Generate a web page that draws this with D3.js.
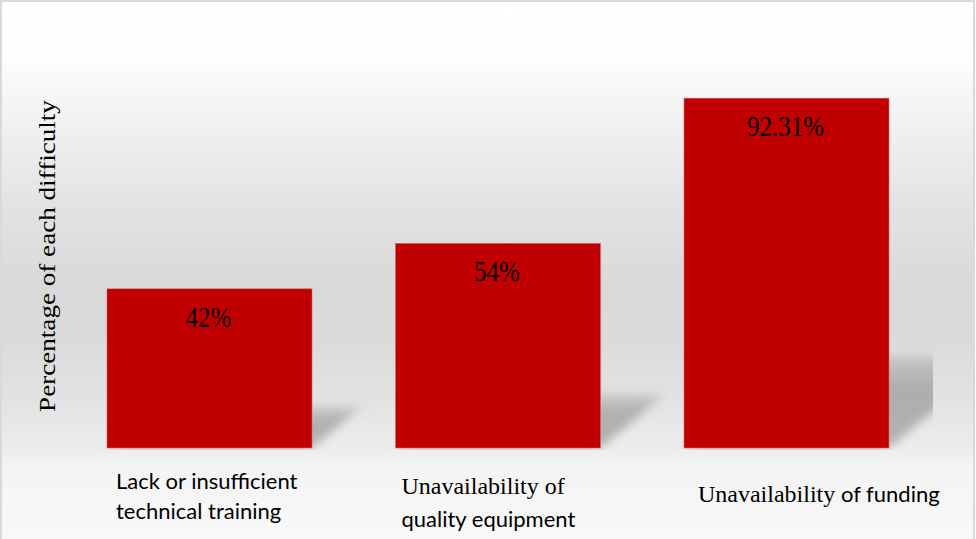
<!DOCTYPE html>
<html>
<head>
<meta charset="utf-8">
<script src="https://cdn.jsdelivr.net/npm/d3@7"></script>
<style>
  html, body { margin: 0; padding: 0; background: #fff; }
  svg { display: block; }
</style>
</head>
<body>
<svg id="chart" width="976" height="539"></svg>
<script>
// Difficulties reported, share of respondents (%)
const categories = [
  "Lack or insufficient technical training",
  "Unavailability of quality equipment",
  "Unavailability of funding"
];
const values = [42, 54, 92.31];
const yDomain = [0, 100];
const yTitle = "Percentage of each difficulty";

const W = 976, H = 539;
const SERIF = "'Liberation Serif', 'Times New Roman', serif";
const SANS = "Lato, 'Open Sans', sans-serif";
const BAR = "#c00000";

const svg = d3.select("#chart");
const defs = svg.append("defs");

// Soft grey background wash
const bg = defs.append("linearGradient")
  .attr("id", "bgGrad").attr("x1", 0).attr("y1", 0).attr("x2", 0).attr("y2", 1);
[[0, "#ffffff"], [50, "#fefefe"], [120, "#f1f1f1"], [200, "#e3e3e3"], [280, "#d9d9d9"],
 [330, "#dadada"], [400, "#e4e4e4"], [445, "#eeeeee"], [456, "#f4f4f4"], [539, "#f9f9f9"]]
  .forEach(([y, c]) => bg.append("stop").attr("offset", y / H).attr("stop-color", c));

defs.append("filter").attr("id", "shadowBlur")
  .attr("x", "-20%").attr("y", "-20%").attr("width", "140%").attr("height", "140%")
  .append("feGaussianBlur").attr("stdDeviation", 5);

// Shadow darkens towards its base
const sg = defs.append("linearGradient")
  .attr("id", "shadowGrad").attr("x1", 0).attr("y1", 0).attr("x2", 0).attr("y2", 1);
sg.append("stop").attr("offset", 0).attr("stop-color", "#7a7a7a").attr("stop-opacity", 0.25);
sg.append("stop").attr("offset", 0.35).attr("stop-color", "#7a7a7a").attr("stop-opacity", 0.5);
sg.append("stop").attr("offset", 1).attr("stop-color", "#7a7a7a").attr("stop-opacity", 0.5);

const x = d3.scaleBand()
  .domain(categories)
  .range([65.25, 930.75])
  .paddingInner(0.2894)
  .paddingOuter(0.1447);

const y = d3.scaleLinear().domain(yDomain).range([448, 69]);

defs.append("clipPath").attr("id", "plotClip")
  .append("rect").attr("x", 60).attr("y", y(100)).attr("width", 933 - 60).attr("height", y(0) + 2 - y(100));

svg.append("rect").attr("x", 1).attr("y", 1).attr("width", W - 3).attr("height", H + 10)
  .attr("fill", "url(#bgGrad)").attr("stroke", "#d9d9d9").attr("stroke-width", 2);

// Perspective shadows cast up and to the right of each bar
const shadowScale = 0.26, shadowSlant = 1.2;
svg.append("g").attr("clip-path", "url(#plotClip)")
  .selectAll("path").data(values).join("path")
  .attr("d", (v, i) => {
    const x0 = x(categories[i]), x1 = x0 + x.bandwidth();
    const b = y(0), h = (y(0) - y(v)) * shadowScale, dx = h * shadowSlant;
    return `M${x0},${b}L${x1},${b}L${x1 + dx},${b - h}L${x0 + dx},${b - h}Z`;
  })
  .attr("fill", "url(#shadowGrad)")
  .attr("filter", "url(#shadowBlur)");

// Bars
svg.append("g").selectAll("rect").data(values).join("rect")
  .attr("x", (v, i) => x(categories[i]))
  .attr("y", v => y(v))
  .attr("width", x.bandwidth())
  .attr("height", v => y(0) - y(v))
  .attr("fill", BAR)
  .attr("stroke", "#d86a6a").attr("stroke-width", 0.6);

// Value labels inside the top of each bar
svg.append("g").selectAll("text").data(values).join("text")
  .attr("transform", (v, i) =>
    `translate(${x(categories[i]) + x.bandwidth() / 2 - 1},${y(v) + 38}) scale(1,1.2)`)
  .attr("text-anchor", "middle")
  .attr("font-family", SERIF)
  .attr("font-size", 25)
  .attr("fill", "#000")
  .text(v => v + "%");

// Category labels: line breaks (word index) and number of leading words set in serif
const labelFormat = [
  { breakAt: 3, serifWords: 0, dx: 9,  base: 489, lead: 30 },
  { breakAt: 2, serifWords: 2, dx: 6,  base: 494, lead: 33 },
  { breakAt: 99, serifWords: 1, dx: 14, base: 502, lead: 30 }
];
const catG = svg.append("g");
categories.forEach((c, i) => {
  const f = labelFormat[i];
  const words = c.split(" ");
  const lines = [words.slice(0, f.breakAt), words.slice(f.breakAt)].filter(l => l.length);
  let wi = 0;
  lines.forEach((line, li) => {
    const t = catG.append("text")
      .attr("x", x(c) + f.dx)
      .attr("y", f.base + li * f.lead)
      .attr("fill", "#000");
    // group consecutive words sharing a font into runs
    const runs = [];
    line.forEach((w, k) => {
      const fam = (wi < f.serifWords) ? "serif" : "sans";
      wi++;
      const last = runs[runs.length - 1];
      if (last && last.fam === fam) last.text += " " + w;
      else runs.push({ fam, text: (k > 0 ? " " : "") + w });
    });
    runs.forEach(r => {
      t.append("tspan")
        .attr("font-family", r.fam === "serif" ? SERIF : SANS)
        .attr("font-size", r.fam === "serif" ? 24 : 22)
        .attr("xml:space", "preserve")
        .style("white-space", "pre")
        .text(r.text);
    });
  });
});

// Vertical axis title
svg.append("text")
  .attr("transform", "translate(55,256) scale(1,1.13) rotate(-90)")
  .attr("text-anchor", "middle")
  .attr("font-family", SERIF)
  .attr("font-size", 24)
  .attr("fill", "#000")
  .text(yTitle);
</script>
</body>
</html>
